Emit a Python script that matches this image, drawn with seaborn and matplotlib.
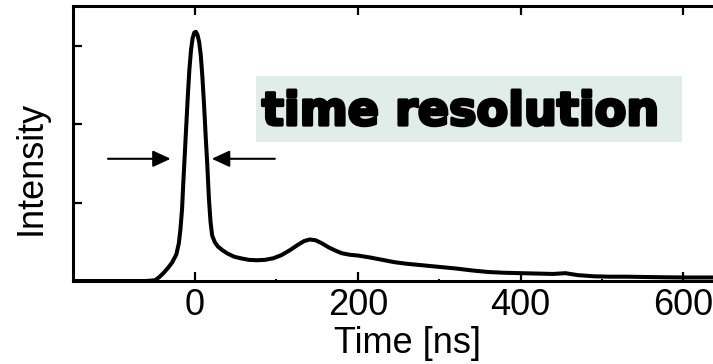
import numpy as np
import pandas as pd
import matplotlib
matplotlib.use("Agg")
import matplotlib.pyplot as plt
from matplotlib.patches import Rectangle
from matplotlib.ticker import MultipleLocator
import matplotlib.patheffects as pe
import seaborn as sns

# Measured time profile of the pulse
time_ns = [-150, -100, -60, -49, -44, -39, -33, -28, -23, -20, -18, -16, -14.5, -13,
           -11, -9, -7, -5, -3, -1, 1, 3, 5, 7, 9, 11, 13, 15, 17, 19, 21, 24, 28,
           34, 40, 48, 56, 66, 76, 86, 96, 106, 116, 126, 134, 141, 148, 156, 164,
           172, 180, 190, 200, 215, 230, 245, 260, 280, 300, 320, 340, 360, 380,
           400, 420, 440, 455, 470, 490, 510, 530, 560, 580, 600, 620, 636]
intensity = [0.0, 0.0, 0.0, 0.01, 0.05, 0.10, 0.17, 0.24, 0.34, 0.48, 0.66, 0.92,
             1.25, 1.55, 1.95, 2.35, 2.70, 2.95, 3.10, 3.17, 3.18, 3.14, 3.05, 2.88,
             2.60, 2.25, 1.85, 1.48, 1.05, 0.75, 0.58, 0.50, 0.44, 0.39, 0.35, 0.31,
             0.29, 0.27, 0.265, 0.27, 0.29, 0.33, 0.39, 0.46, 0.51, 0.53, 0.52, 0.48,
             0.43, 0.39, 0.355, 0.335, 0.325, 0.30, 0.27, 0.24, 0.22, 0.20, 0.18,
             0.16, 0.135, 0.115, 0.105, 0.10, 0.095, 0.09, 0.10, 0.075, 0.06, 0.055,
             0.055, 0.05, 0.047, 0.045, 0.045, 0.045]

# Resolution marker
arrow_level = 1.56
left_arrow = (-107, -30)
right_arrow = (98, 20.5)
label_text = "time resolution"

df = pd.DataFrame({"Time [ns]": time_ns, "Intensity": intensity})

sns.set_theme(style="ticks")
plt.rcParams["font.family"] = ["Liberation Sans", "DejaVu Sans"]
plt.rcParams.update({"text.color": "black", "axes.labelcolor": "black",
                     "xtick.color": "black", "ytick.color": "black"})

fig = plt.figure(figsize=(7.13, 3.64), dpi=100)
ax = fig.add_axes([73 / 713, 83 / 364, 640 / 713, 275 / 364])

sns.lineplot(data=df, x="Time [ns]", y="Intensity", ax=ax, color="black",
             lw=2.9, solid_joinstyle="round")

ax.set_xlim(-150, 636.3)
ax.set_ylim(0, 3.51)

for side in ("left", "top", "bottom"):
    ax.spines[side].set_linewidth(2.2)
    ax.spines[side].set_color("black")
ax.spines["right"].set_visible(False)

ax.xaxis.set_major_locator(MultipleLocator(200))
ax.xaxis.set_minor_locator(MultipleLocator(100))
ax.yaxis.set_major_locator(MultipleLocator(1))
ax.yaxis.set_minor_locator(MultipleLocator(0.5))
ax.tick_params(axis="x", which="both", direction="in", top=True, bottom=True,
               colors="black", labelcolor="black")
ax.tick_params(axis="y", which="both", direction="in", left=True, right=False,
               labelleft=False, colors="black")
ax.tick_params(which="major", length=6.5, width=1.6, labelsize=26, pad=5)
ax.tick_params(which="minor", length=1.5, width=1.4)

ax.set_xlabel("Time [ns]", fontsize=26, color="black")
ax.set_ylabel("Intensity", fontsize=26, color="black")
ax.xaxis.set_label_coords(0.523, -0.162)
ax.xaxis.label.set_va("top")
ax.yaxis.set_label_coords(-0.066, 0.413)
ax.yaxis.label.set_va("center")

# Shaded label box
ax.add_patch(Rectangle((75, 1.775), 523.4, 0.843, facecolor="#e0ede8",
                       edgecolor="none", zorder=1))
ax.text(82, 1.99, label_text, fontsize=33.2, fontweight="bold", color="black",
        family="DejaVu Sans", ha="left", va="baseline", zorder=3,
        path_effects=[pe.withStroke(linewidth=2.2, foreground="black")])

arrow_style = dict(arrowstyle="-|>,head_length=0.54,head_width=0.25",
                   color="black", lw=1.5, mutation_scale=20,
                   shrinkA=0, shrinkB=0)
ax.annotate("", xy=(left_arrow[1], arrow_level), xytext=(left_arrow[0], arrow_level),
            arrowprops=arrow_style)
ax.annotate("", xy=(right_arrow[1], arrow_level), xytext=(right_arrow[0], arrow_level),
            arrowprops=arrow_style)

fig.savefig("out.png", dpi=100)
